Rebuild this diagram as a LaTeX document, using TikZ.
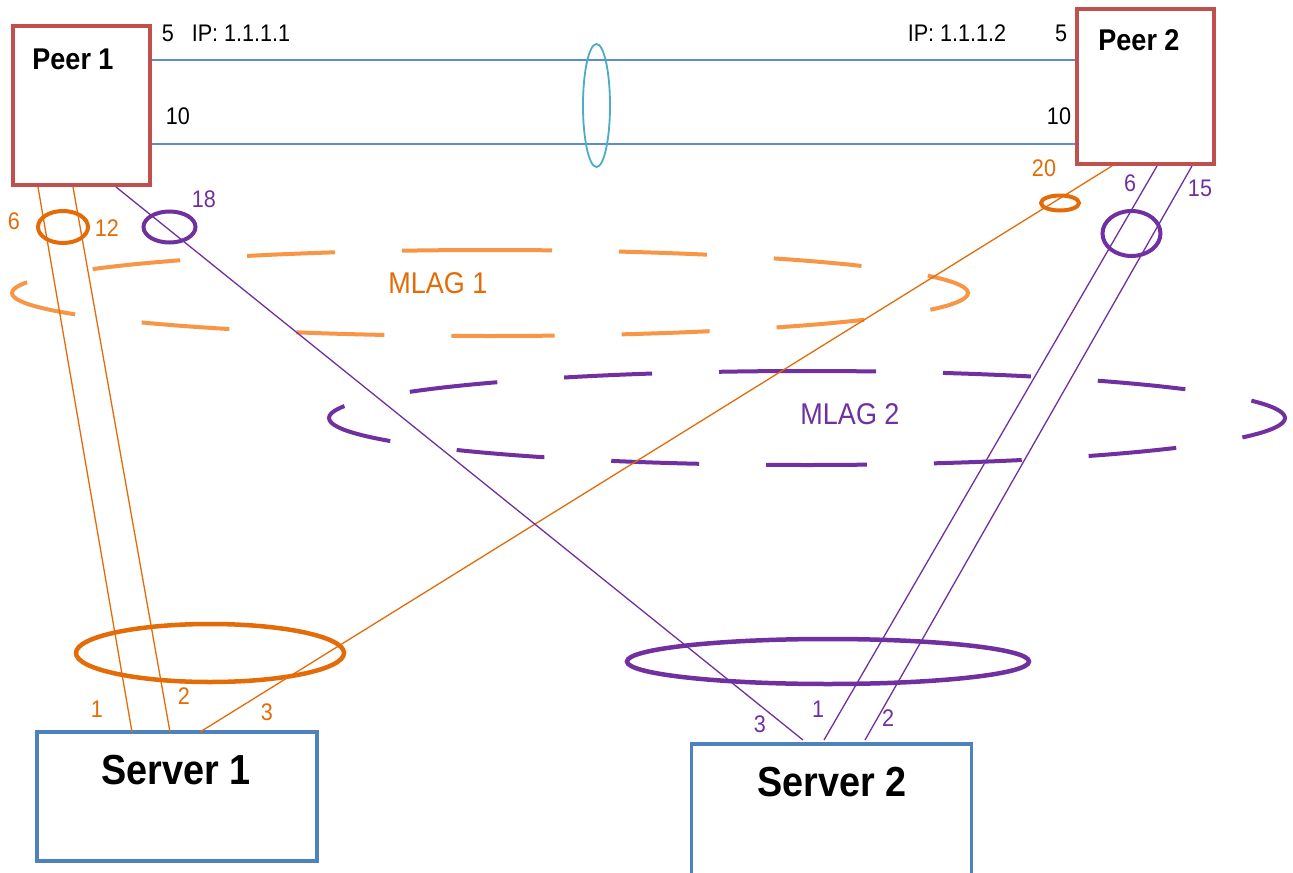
\documentclass[tikz,border=0pt]{standalone}
\usepackage{fontspec}
\setmainfont{Liberation Sans}[FakeStretch=0.9]
\usetikzlibrary{calc,shapes.geometric}
\definecolor{peerred}{HTML}{C0504D}
\definecolor{srvblue}{HTML}{4F81BD}
\definecolor{linkblue}{HTML}{5B8DC9}
\definecolor{lagcyan}{HTML}{4BACC6}
\definecolor{orgline}{HTML}{E36C09}
\definecolor{orgdash}{HTML}{F79646}
\definecolor{purp}{HTML}{7030A0}
\begin{document}
\begin{tikzpicture}[x=1bp,y=-1bp,
  peerbox/.style={draw=peerred,line width=4.5bp,fill=white,inner sep=0,minimum width=137bp},
  srvbox/.style={draw=srvblue,line width=3.5bp,fill=white,inner sep=0,minimum width=280bp},
  lbl/.style={inner sep=0,font=\fontsize{24bp}{26bp}\selectfont},
  bigl/.style={inner sep=0,font=\fontsize{30bp}{32bp}\selectfont},
  olink/.style={draw=orgline,line width=1.3bp},
  plink/.style={draw=purp,line width=1.3bp},
  blink/.style={draw=linkblue,line width=1.6bp},
  mlagdash/.style={line width=4bp,dash pattern=on 88bp off 67bp}
]
\clip (0,0) rectangle (1293,873);
\fill[white] (0,0) rectangle (1293,873);

% boxes
\node[peerbox,minimum height=159bp] (p1) at (81.5,105.5) {};
\node[peerbox,minimum height=155bp] (p2) at (1145.5,86.5) {};
\node[srvbox,minimum height=129bp] (s1) at (177,796.5) {};
\node[srvbox,minimum height=150bp] (s2) at (831.5,819) {};

% box labels
\node[inner sep=0,font=\fontsize{30bp}{32bp}\selectfont\bfseries] (p1t) at (73,59) {Peer 1};
\node[inner sep=0,font=\fontsize{30bp}{32bp}\selectfont\bfseries] (p2t) at (1139,40) {Peer 2};
\node[inner sep=0,font=\fontsize{42bp}{44bp}\selectfont\bfseries] (s1t) at (176,770) {Server 1};
\node[inner sep=0,font=\fontsize{42bp}{44bp}\selectfont\bfseries] (s2t) at (832,782) {Server 2};

% peer link attachment points
\coordinate (a1) at (p1.east |- 0,60);
\coordinate (b1) at (p2.west |- 0,60);
\coordinate (a2) at (p1.east |- 0,144);
\coordinate (b2) at (p2.west |- 0,144);
\draw[blink] (a1) -- (b1);
\draw[blink] (a2) -- (b2);
\node[draw=lagcyan,line width=1.8bp,ellipse,minimum width=27bp,minimum height=123bp,inner sep=0] (cl) at (596.5,105.5) {};

% MLAG dashed ellipses (each drawn as two halves from the top)
\coordinate (m1top) at (490,250);
\coordinate (m2top) at (807,371);
\draw[orgdash,mlagdash,dash phase=26bp] (m1top) arc[start angle=-90,end angle=90,x radius=478,y radius=43];
\draw[orgdash,mlagdash] (m1top) arc[start angle=-90,end angle=-270,x radius=478,y radius=43];
\draw[purp,mlagdash,dash phase=19bp] (m2top) arc[start angle=-90,end angle=90,x radius=478,y radius=47];
\draw[purp,mlagdash] (m2top) arc[start angle=-90,end angle=-270,x radius=478,y radius=47];
\node[bigl,text=orgline] (m1) at (438,283) {MLAG 1};
\node[bigl,text=purp] (m2) at (850,414) {MLAG 2};

% connector endpoints
\coordinate (p1o1) at (38,187);
\coordinate (p1o2) at (73,187);
\coordinate (p1p) at (116,187);
\coordinate (s1o1) at (132,732);
\coordinate (s1o2) at (170,732);
\coordinate (s1o3) at (200,732);
\coordinate (p2o) at (1112,166);
\coordinate (p2p1) at (1157,166);
\coordinate (p2p2) at (1192,166);
\coordinate (s2p3) at (803,740);
\coordinate (s2p1) at (824,740);
\coordinate (s2p2) at (865,740);

\draw[olink] (p1o1) -- (s1o1);
\draw[olink] (p1o2) -- (s1o2);
\draw[olink] (p2o) -- (s1o3);
\draw[plink] (p1p) -- (s2p3);
\draw[plink] (p2p1) -- (s2p1);
\draw[plink] (p2p2) -- (s2p2);

% small LAG rings
\draw[orgline,line width=4bp] (63,227) ellipse [x radius=25, y radius=16];
\draw[purp,line width=4bp] (169.5,227) ellipse [x radius=26, y radius=15.5];
\draw[orgline,line width=4bp] (1060,203) ellipse [x radius=19, y radius=7.5];
\draw[purp,line width=4bp] (1131.5,233.5) ellipse [x radius=29, y radius=22.5];
\draw[orgline,line width=4.5bp] (210,653) ellipse [x radius=134, y radius=29];
\draw[purp,line width=4.5bp] (828,661.5) ellipse [x radius=201, y radius=22.5];

% port labels
\node[lbl] (l5a) at (168,33) {5};
\node[lbl] (lipa) at (241,33) {IP: 1.1.1.1};
\node[lbl] (l10a) at (178,116) {10};
\node[lbl] (lipb) at (957,33) {IP: 1.1.1.2};
\node[lbl] (l5b) at (1061,33) {5};
\node[lbl] (l10b) at (1059,116) {10};
\node[lbl,text=orgline] (l20) at (1044,168) {20};
\node[lbl,text=purp] (l6p) at (1130,183) {6};
\node[lbl,text=purp] (l15) at (1200,188) {15};
\node[lbl,text=orgline] (l6o) at (14,221) {6};
\node[lbl,text=orgline] (l12) at (107,228) {12};
\node[lbl,text=purp] (l18) at (204,199) {18};
\node[lbl,text=orgline] (lo1) at (97,709) {1};
\node[lbl,text=orgline] (lo2) at (184,696) {2};
\node[lbl,text=orgline] (lo3) at (267,712) {3};
\node[lbl,text=purp] (lp3) at (760,724) {3};
\node[lbl,text=purp] (lp1) at (818,709) {1};
\node[lbl,text=purp] (lp2) at (888,718) {2};
\end{tikzpicture}
\end{document}
